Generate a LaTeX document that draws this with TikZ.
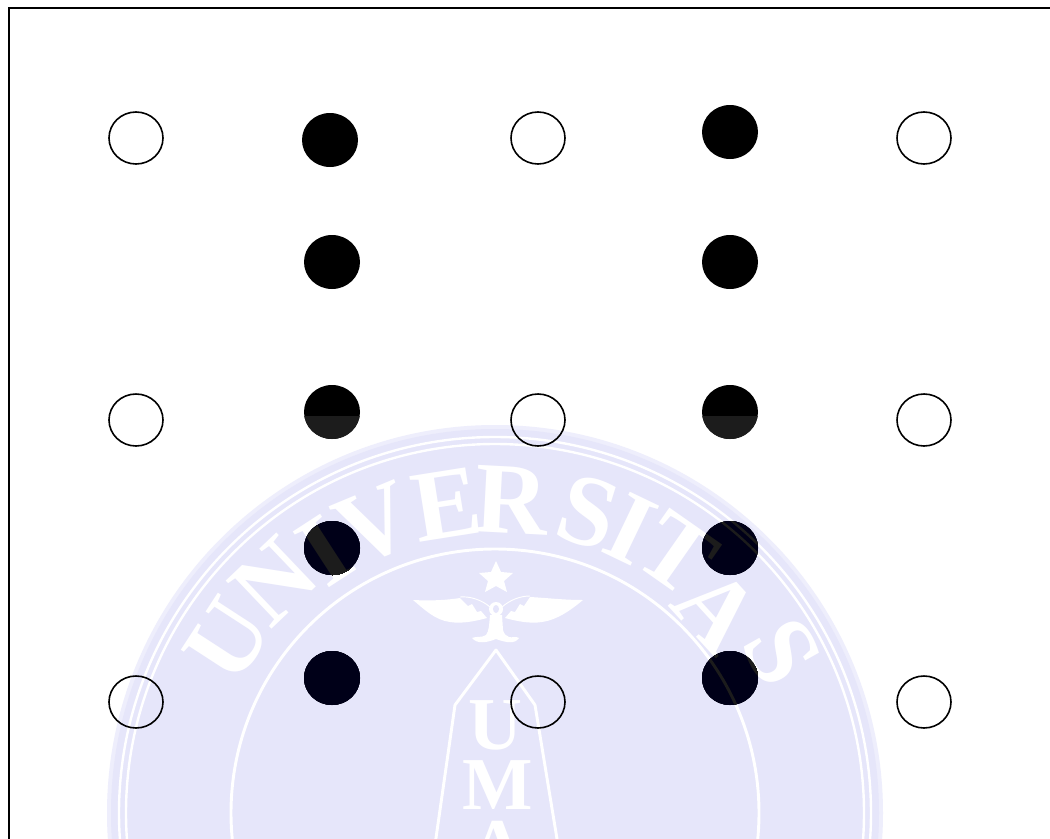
\documentclass[tikz,border=0pt]{standalone}
\usepackage{fontspec}
\newfontfamily\wmfont{Liberation Serif}[BoldFont={Liberation Serif Bold}]
\definecolor{wmlav}{RGB}{230,230,250}
\definecolor{wmpale}{RGB}{238,238,252}
\definecolor{wmnavy}{RGB}{0,0,24}
\definecolor{wmdark}{RGB}{28,28,28}
\tikzset{
  opendot/.style={draw=black,line width=1.2pt},
  wmring/.style={line width=1.8pt},
  wmletter/.style={inner sep=0pt,font=\wmfont\bfseries\fontsize{76}{76}\selectfont},
  wmsmall/.style={inner sep=0pt,font=\wmfont\bfseries\fontsize{56}{56}\selectfont}
}
% #1 ground colour, #2 letter and line colour, #3 pale rim colour
\newcommand{\crest}[3]{%
  \fill[#3] (495,813) circle[radius=388];
  \fill[#1] (495,813) circle[radius=384];
  \draw[#2,wmring] (495,813) circle[radius=376];
  \draw[#2,wmring] (495,813) circle[radius=369];
  \draw[#2,line width=2.2pt] (495,813) circle[radius=264];
  \foreach \l/\a/\r in {U/147/318,N/133.6/320,I/123/312,V/112.6/312,E/99/312,R/87/313,S/72.8/315,I/64.4/315,T/55/317,A/42.4/301,S/29.3/329}{
    \pgfmathsetmacro{\px}{495+\r*cos(\a)}
    \pgfmathsetmacro{\py}{813-\r*sin(\a)}
    \pgfmathsetmacro{\rt}{\a-90}
    \node[wmletter,text=#2,rotate=\rt] at (\px,\py) {\l};
  }
  \fill[#2] (496,561) -- (501,572) -- (513,573) -- (504,581) -- (507,592) -- (496,586) -- (485,592) -- (488,581) -- (479,573) -- (491,572) -- cycle;
  \fill[#2] (413,600) .. controls (432,601) and (447,600) .. (460,598) -- (468,606) -- (472,604) -- (477,612) -- (481,611) -- (487,618) .. controls (476,621) and (462,624) .. (450,622) .. controls (435,620) and (425,610) .. (413,600) -- cycle;
  \fill[#2] (583,600) .. controls (564,600) and (548,598) .. (530,597) -- (524,606) -- (520,604) -- (515,612) -- (511,611) -- (505,618) .. controls (516,621) and (530,624) .. (542,622) .. controls (557,620) and (571,610) .. (583,600) -- cycle;
  \draw[#2,line width=0.7pt] (460,597) .. controls (470,596) and (482,600) .. (490,607);
  \draw[#2,line width=0.7pt] (530,596) .. controls (520,596) and (510,600) .. (502,607);
  \fill[#2] (490,615) -- (502,615) -- (503,630) .. controls (504,634) and (506,636) .. (509,637) .. controls (512,638) and (516,636) .. (519,638) .. controls (515,644) and (507,643) .. (496,639) .. controls (486,643) and (477,644) .. (472,638) .. controls (476,636) and (482,638) .. (486,635) .. controls (489,631) and (489,626) .. (490,615) -- cycle;
  \fill[#2] (496,609) ellipse[x radius=7,y radius=7];
  \fill[#1] (496,609) ellipse[x radius=3,y radius=4];
  \draw[#2,line width=2.2pt,line join=round] (435,845) -- (455,705) -- (496,650) -- (535,705) -- (558,845);
  \node[wmsmall,text=#2] at (495,725) {U};
  \node[wmsmall,text=#2] at (498,785) {M};
  \node[wmsmall,text=#2] at (497,846) {A};
}
% filled dot seen through the crest; #1 x, #2 y
\newcommand{\solidmark}[2]{%
  \begin{scope}
    \clip (#1,#2) ellipse[x radius=28,y radius=27];
    \fill[black] (#1-30,#2-30) rectangle (#1+30,#2+30);
    \ifdim #2pt>380pt
      \fill[wmdark] (#1-30,416) rectangle (#1+30,#2+30);
      \crest{wmnavy}{wmdark}{wmnavy}
    \fi
  \end{scope}%
}
\begin{document}
\begin{tikzpicture}[x=0.75pt,y=-0.75pt]
\useasboundingbox (0,0) rectangle (1050,839);
\clip (0,0) rectangle (1050,839);
\fill[white] (0,0) rectangle (1050,839);
\crest{wmlav}{white}{wmpale}
\draw[black,line width=1.5pt] (9,8) rectangle (1070,860);
\foreach \x in {136,538,924}
  \foreach \y in {138,420,702}
    \draw[opendot] (\x,\y) ellipse[x radius=27,y radius=26];
\solidmark{330}{140}
\solidmark{730}{132}
\solidmark{332}{262}
\solidmark{730}{262}
\solidmark{332}{412}
\solidmark{730}{412}
\solidmark{332}{548}
\solidmark{730}{548}
\solidmark{332}{678}
\solidmark{730}{678}
\end{tikzpicture}
\end{document}
